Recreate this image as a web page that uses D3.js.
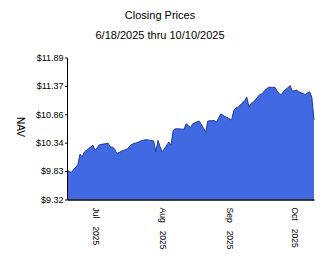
<!DOCTYPE html>
<html>
<head>
<meta charset="utf-8">
<script src="https://cdn.jsdelivr.net/npm/d3@7"></script>
<style>
body { margin: 0; background: #fff; }
svg { display: block; }
text { font-family: "Liberation Sans", Arial, sans-serif; fill: #000; }
</style>
</head>
<body>
<svg width="324" height="267"></svg>
<script>
// trading days 6/18/2025 - 10/10/2025
const dates = [
    '2025-06-18','2025-06-20','2025-06-23','2025-06-24','2025-06-25','2025-06-26','2025-06-27','2025-06-30',
    '2025-07-01','2025-07-02','2025-07-03','2025-07-07','2025-07-08','2025-07-09','2025-07-10','2025-07-11',
    '2025-07-14','2025-07-15','2025-07-16','2025-07-17','2025-07-18','2025-07-21','2025-07-22','2025-07-23',
    '2025-07-24','2025-07-25','2025-07-28','2025-07-29','2025-07-30','2025-07-31','2025-08-01','2025-08-04',
    '2025-08-05','2025-08-06','2025-08-07','2025-08-08','2025-08-11','2025-08-12','2025-08-13','2025-08-14',
    '2025-08-15','2025-08-18','2025-08-19','2025-08-20','2025-08-21','2025-08-22','2025-08-25','2025-08-26',
    '2025-08-27','2025-08-28','2025-08-29','2025-09-02','2025-09-03','2025-09-04','2025-09-05','2025-09-08',
    '2025-09-09','2025-09-10','2025-09-11','2025-09-12','2025-09-15','2025-09-16','2025-09-17','2025-09-18',
    '2025-09-19','2025-09-22','2025-09-23','2025-09-24','2025-09-25','2025-09-26','2025-09-29','2025-09-30',
    '2025-10-01','2025-10-02','2025-10-03','2025-10-06','2025-10-07','2025-10-08','2025-10-09','2025-10-10'
];
const navValues = [
    9.85, 9.81, 9.95, 10.14, 10.09, 10.18, 10.21, 10.30,
    10.21, 10.26, 10.31, 10.34, 10.27, 10.27, 10.23, 10.15,
    10.21, 10.22, 10.24, 10.29, 10.32, 10.36, 10.38, 10.39,
    10.40, 10.40, 10.38, 10.18, 10.39, 10.27, 10.18, 10.36,
    10.30, 10.57, 10.60, 10.60, 10.59, 10.69, 10.66, 10.62,
    10.69, 10.74, 10.68, 10.61, 10.54, 10.74, 10.75, 10.72,
    10.80, 10.87, 10.84, 10.76, 10.93, 10.98, 10.99, 11.11,
    11.17, 10.99, 11.06, 11.08, 11.22, 11.23, 11.28, 11.32,
    11.35, 11.35, 11.28, 11.23, 11.22, 11.28, 11.38, 11.28,
    11.29, 11.30, 11.27, 11.22, 11.25, 11.27, 11.17, 10.76
];
const yTicks = [9.32, 9.834, 10.348, 10.862, 11.376, 11.89];
const yTickLabels = ['$9.32', '$9.83', '$10.34', '$10.86', '$11.37', '$11.89'];
const xTicks = ['2025-07-01', '2025-08-01', '2025-09-01', '2025-10-01'];
const xMonths = ['Jul', 'Aug', 'Sep', 'Oct'];
const xYears = ['2025', '2025', '2025', '2025'];

const parse = d3.timeParse('%Y-%m-%d');
const data = dates.map((d, i) => ({date: parse(d), nav: navValues[i]}));

const svg = d3.select('svg');
const plotLeft = 67, plotRight = 314, plotTop = 57.5, plotBottom = 199.5;

const x = d3.scaleTime()
    .domain([parse('2025-06-18'), parse('2025-10-10')])
    .range([plotLeft, plotRight]);
const y = d3.scaleLinear()
    .domain([9.32, 11.89])
    .range([plotBottom, plotTop]);

// titles
svg.append('text').attr('x', 160).attr('y', 19)
    .attr('text-anchor', 'middle').style('font-size', '11px')
    .text('Closing Prices');
svg.append('text').attr('x', 160).attr('y', 39)
    .attr('text-anchor', 'middle').style('font-size', '11px')
    .text('6/18/2025 thru 10/10/2025');

// area
const area = d3.area()
    .x(d => x(d.date))
    .y0(y(9.32))
    .y1(d => y(d.nav));
const line = d3.line()
    .x(d => x(d.date))
    .y(d => y(d.nav));

svg.append('path').datum(data)
    .attr('d', area)
    .attr('fill', '#4169e1');
svg.append('path').datum(data)
    .attr('d', line)
    .attr('fill', 'none')
    .attr('stroke', '#1d3a9e')
    .attr('stroke-width', 1);

// y axis
const yAxis = svg.append('g')
    .attr('transform', `translate(${plotLeft},0)`)
    .call(d3.axisLeft(y).tickValues(yTicks).tickSize(2).tickSizeOuter(0)
        .tickFormat((d, i) => yTickLabels[i]));
yAxis.select('.domain').attr('stroke', '#000');
yAxis.selectAll('line').attr('stroke', '#000');
yAxis.selectAll('text').style('font-size', '9px').attr('x', -3.5);

// x axis
const xAxis = svg.append('g')
    .attr('transform', `translate(0,${plotBottom})`)
    .call(d3.axisBottom(x).tickValues(xTicks.map(parse)).tickSize(0).tickSizeOuter(0)
        .tickFormat(''));
xAxis.select('.domain').attr('stroke', '#000').attr('stroke-width', 1.5);

xAxis.selectAll('.tick').each(function (d, i) {
    const t = d3.select(this).select('text')
        .attr('transform', 'rotate(90)')
        .attr('x', 8).attr('y', 0).attr('dy', '0.35em')
        .attr('text-anchor', 'start')
        .style('font-size', '8.5px');
    t.append('tspan').text(xMonths[i]);
    t.append('tspan').attr('dx', 8).text(xYears[i]);
});

// y title
svg.append('text')
    .attr('transform', 'translate(20,127) rotate(90)')
    .attr('text-anchor', 'middle').attr('dy', '0.35em')
    .style('font-size', '10px')
    .text('NAV');
</script>
</body>
</html>
